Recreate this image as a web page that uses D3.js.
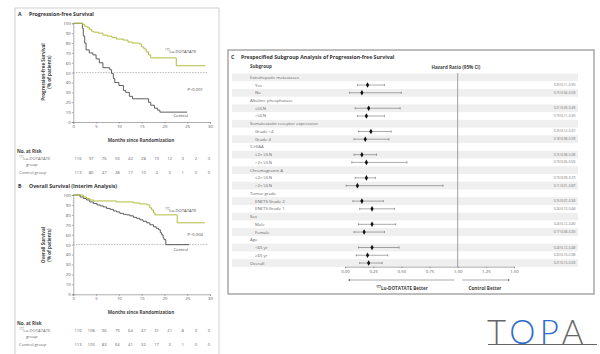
<!DOCTYPE html>
<html>
<head>
<meta charset="utf-8">
<script src="https://cdn.jsdelivr.net/npm/d3@7"></script>
<style>
  body { margin: 0; background: #fff; }
  text { font-family: "Open Sans", "Liberation Sans", sans-serif; fill: #444; }
  .title { font-weight: bold; font-size: 5.2px; fill: #333; }
  .tick text { font-size: 4.3px; fill: #555; }
  .axis path, .axis line { stroke: #777; stroke-width: 0.6; }
  .axis-label { font-weight: bold; font-size: 4.6px; fill: #444; }
  .risk { font-size: 4.2px; fill: #666; }
  .row-label { font-size: 4.3px; fill: #666; }
  .hr-text { font-size: 3px; fill: #666; }
</style>
</head>
<body>
<div id="chart"></div>
<script>
// Kaplan-Meier step points [month, % of patients]
const lutPFS = [[0,100],[1.5,100],[2,99],[2.5,97],[3,96],[3.5,94],[4,92],[4.5,91],[5.5,90],[6.5,88],[7.5,87],[8.5,85.5],[9.5,84],[11,83],[12,81],[13,80],[14.5,79],[15,76],[15.5,74],[16,71],[16.5,68],[17,65],[22.5,65],[22.6,57],[29,57]];
const ctlPFS = [[0,100],[1.8,100],[2,95],[2.2,87],[2.5,80],[2.8,73],[3.5,70],[4.3,68],[5,64],[5.7,60],[6.5,55],[8,53],[8.4,49],[8.8,44],[9.1,40],[10,37],[11,32],[11.5,30],[12.3,26],[13,23.5],[16,23.5],[16.5,20],[17,17],[17.8,14],[18.5,12],[19,10],[25,10]];
const lutOS = [[0,100],[1.5,100],[2.2,98],[2.9,96.5],[3.6,95],[4.4,94],[9.5,93],[13.2,92],[14.6,91],[16.1,90],[16.8,87],[17.2,85],[17.6,82],[17.9,80],[22.7,80],[22.8,72],[28.9,72]];
const ctlOS = [[0,100],[1,100],[1.5,98],[2.2,96.5],[2.9,95],[3.6,93],[4.4,91.5],[5.2,90],[5.9,89],[6.6,88],[7.3,86.5],[8.1,85.5],[8.8,84],[9.5,83],[10.2,81.5],[11,80.5],[11.7,80],[12.4,79],[13.2,77.5],[13.9,76.5],[14.6,75],[15.3,73.5],[16.1,72],[16.8,70],[17.6,68],[18.2,66.5],[18.7,65],[19.1,62],[19.4,60],[19.7,57],[19.9,55],[20.3,50],[25.4,50]];

// Numbers at risk
const riskMonths = [0,3,6,9,12,15,18,21,24,27,30];
const riskLutPFS = [116,97,76,59,42,28,19,12,3,2,0];
const riskCtlPFS = [113,80,47,28,17,10,4,3,1,0,0];
const riskLutOS = [116,108,96,79,64,47,31,21,8,3,0];
const riskCtlOS = [113,103,83,64,41,32,17,3,1,0,0];

// Axis ticks
const kmXTicks = [0,5,10,15,20,25,30];
const kmYTicks = [0,10,20,30,40,50,60,70,80,90,100];
const hrTicks = [0,0.25,0.5,0.75,1,1.25,1.5];

// Forest plot rows
const forestLabels = ["Extrahepatic metastases","Yes","No","Alkaline phosphatase","\u2264ULN",">ULN",
  "Somatostatin receptor expression","Grade <4","Grade 4","5-HIAA","\u22642\u00d7 ULN",">2\u00d7 ULN",
  "Chromogranin A","\u22642\u00d7 ULN",">2\u00d7 ULN","Tumor grade","ENETS Grade 2","ENETS Grade 1",
  "Sex","Male","Female","Age","<65 yr","\u226565 yr","Overall"];
const forestHeader = [1,0,0,1,0,0,1,0,0,1,0,0,1,0,0,1,0,0,1,0,0,1,0,0,1];
const forestHR = [null,0.20,0.15,null,0.21,0.19,null,0.23,0.18,null,0.15,0.19,null,0.19,0.11,null,0.15,0.24,null,0.24,0.17,null,0.24,0.20,0.21];
const forestLo = [null,0.11,0.04,null,0.09,0.11,null,0.12,0.08,null,0.08,0.06,null,0.09,0.01,null,0.07,0.13,null,0.12,0.08,null,0.12,0.10,0.13];
const forestHi = [null,0.35,0.50,null,0.49,0.35,null,0.41,0.39,null,0.28,0.55,null,0.27,0.87,null,0.34,0.44,null,0.45,0.35,null,0.48,0.38,0.33];

const lutColor = "#b3bc3e";
const ctlColor = "#4d4d4d";

const svg = d3.select("#chart")
  .append("svg")
  .attr("width", 600)
  .attr("height", 354);

// Panel frames
svg.append("rect")
  .attr("x", 15).attr("y", 8)
  .attr("width", 204).attr("height", 360)
  .attr("fill", "none")
  .attr("stroke", "#c4c4c4")
  .attr("stroke-width", 0.8);

svg.append("rect")
  .attr("x", 228).attr("y", 50)
  .attr("width", 366).attr("height", 244)
  .attr("fill", "#fff")
  .attr("stroke", "#9a9a9a")
  .attr("stroke-width", 1.3);

// Superscript helper for the 177Lu label
function luLabel(sel) {
  sel.append("tspan").attr("font-size", "0.6em").attr("dy", "-0.6em").text("177");
  sel.append("tspan").attr("dy", "0.36em").text("Lu-DOTATATE");
}

// Kaplan-Meier panel
function kmPanel(opt) {
  const x = d3.scaleLinear().domain([0, 30]).range([73.3, 210]);
  const y = d3.scaleLinear().domain([0, 100]).range([opt.y0, opt.y100]);

  const g = svg.append("g");

  g.append("text").attr("class", "title").attr("x", 18).attr("y", opt.titleY).text(opt.letter);
  g.append("text").attr("class", "title").attr("x", 29).attr("y", opt.titleY).text(opt.title);

  g.append("g")
    .attr("class", "axis")
    .attr("transform", `translate(0, ${opt.y0})`)
    .call(d3.axisBottom(x).tickValues(kmXTicks).tickSize(1.5).tickPadding(1.5));

  g.append("g")
    .attr("class", "axis")
    .attr("transform", `translate(${x(0)}, 0)`)
    .call(d3.axisLeft(y).tickValues(kmYTicks).tickSize(1.5).tickPadding(1.2));

  // 50% reference line
  g.append("line")
    .attr("x1", x(0)).attr("x2", x(29.5))
    .attr("y1", y(50)).attr("y2", y(50))
    .attr("stroke", "#888")
    .attr("stroke-width", 0.6)
    .attr("stroke-dasharray", "1.5,1.2");

  const line = d3.line().curve(d3.curveStepAfter).x(d => x(d[0])).y(d => y(d[1]));

  g.append("path").datum(opt.ctl)
    .attr("fill", "none").attr("stroke", ctlColor).attr("stroke-width", 0.9)
    .attr("d", line);
  g.append("path").datum(opt.lut)
    .attr("fill", "none").attr("stroke", lutColor).attr("stroke-width", 1)
    .attr("d", line);

  // Curve labels
  g.append("text").attr("x", 165).attr("y", y(opt.lutLabelPct)).attr("font-size", 4.2).attr("fill", "#555").call(luLabel);
  g.append("text").attr("x", 203).attr("y", y(opt.pPct)).attr("text-anchor", "end").attr("font-size", 4.2).attr("fill", "#555").text(opt.pText);
  g.append("text").attr("x", 188).attr("y", y(opt.ctlLabelPct)).attr("text-anchor", "end").attr("font-size", 4.2).attr("fill", "#555").text("Control");

  // Y-axis title
  const yt = g.append("text")
    .attr("class", "axis-label")
    .attr("text-anchor", "middle")
    .attr("transform", `translate(45, ${opt.yTitleMid}) rotate(-90)`);
  yt.append("tspan").attr("x", 0).attr("dy", 0).text(opt.yTitle);
  yt.append("tspan").attr("x", 0).attr("dy", 5.5).text("(% of patients)");

  g.append("text")
    .attr("class", "axis-label")
    .attr("text-anchor", "middle")
    .attr("x", 141).attr("y", opt.y0 + 20)
    .text("Months since Randomization");

  // Numbers at risk table
  const rx = d3.scaleLinear().domain([0, 30]).range([78, 209]);
  const ry = opt.riskY;
  g.append("text").attr("class", "axis-label").attr("x", 17).attr("y", ry).text("No. at Risk");
  g.append("text").attr("class", "risk").attr("x", 19).attr("y", ry + 7).call(luLabel);
  g.append("text").attr("class", "risk").attr("x", 26).attr("y", ry + 13.5).text("group");
  g.append("text").attr("class", "risk").attr("x", 19).attr("y", ry + 21).text("Control group");

  g.selectAll(".risk-lut").data(opt.riskLut).enter()
    .append("text").attr("class", "risk").attr("text-anchor", "middle")
    .attr("x", (d, i) => rx(riskMonths[i])).attr("y", ry + 7).text(d => d);
  g.selectAll(".risk-ctl").data(opt.riskCtl).enter()
    .append("text").attr("class", "risk").attr("text-anchor", "middle")
    .attr("x", (d, i) => rx(riskMonths[i])).attr("y", ry + 21).text(d => d);
}

kmPanel({
  letter: "A", title: "Progression-free Survival", titleY: 15.5,
  y100: 23.3, y0: 122, lut: lutPFS, ctl: ctlPFS,
  lutLabelPct: 70, pPct: 31, pText: "P<0.001", ctlLabelPct: 5,
  yTitle: "Progression-free Survival", yTitleMid: 72,
  riskY: 152.5, riskLut: riskLutPFS, riskCtl: riskCtlPFS
});

kmPanel({
  letter: "B", title: "Overall Survival (Interim Analysis)", titleY: 188,
  y100: 195, y0: 294.3, lut: lutOS, ctl: ctlOS,
  lutLabelPct: 83, pPct: 58.5, pText: "P=0.004", ctlLabelPct: 43.5,
  yTitle: "Overall Survival", yTitleMid: 245,
  riskY: 324.5, riskLut: riskLutOS, riskCtl: riskCtlOS
});

// Forest plot (panel C)
const fx = d3.scaleLinear().domain([0, 1.5]).range([345, 514]);
const rowY = d3.scaleLinear().domain([0, forestLabels.length - 1]).range([77.3, 263]);
const rowH = rowY(1) - rowY(0);
const fg = svg.append("g");

fg.append("text").attr("class", "title").attr("x", 231).attr("y", 58.5).text("C");
fg.append("text").attr("class", "title").attr("x", 241).attr("y", 58.5)
  .attr("font-size", 4.6).text("Prespecified Subgroup Analysis of Progression-free Survival");
fg.append("text").attr("class", "axis-label").attr("x", 250).attr("y", 68.3).text("Subgroup");
fg.append("text").attr("class", "axis-label").attr("x", 456).attr("y", 68.5)
  .attr("text-anchor", "middle").text("Hazard Ratio (95% CI)");

// Alternate row bands
fg.selectAll(".band").data(forestLabels).enter()
  .filter((d, i) => i % 2 === 0)
  .append("rect")
  .attr("x", 232).attr("width", 346)
  .attr("y", (d, i) => rowY(i * 2) - rowH / 2)
  .attr("height", rowH)
  .attr("fill", "#efefef");

// Row labels: group headers flush, subgroups indented
fg.selectAll(".row-label").data(forestLabels).enter()
  .append("text")
  .attr("class", "row-label")
  .attr("x", (d, i) => forestHeader[i] ? 250 : 255)
  .attr("y", (d, i) => rowY(i) + 1.5)
  .text(d => d);

// No-effect line
fg.append("line")
  .attr("x1", fx(1)).attr("x2", fx(1))
  .attr("y1", 73).attr("y2", 267)
  .attr("stroke", "#a0a0a0").attr("stroke-width", 1);

// X axis
fg.append("g")
  .attr("class", "axis")
  .attr("transform", "translate(0, 266.7)")
  .call(d3.axisBottom(fx).tickValues(hrTicks).tickFormat(d3.format(".2f")).tickSize(1.5).tickPadding(1.8))
  .selectAll("text").attr("font-size", 3.6);

const rows = forestHR.map((d, i) => ({ i, hr: d, lo: forestLo[i], hi: forestHi[i] })).filter(d => d.hr !== null);

// CI whiskers with caps
fg.selectAll(".ci").data(rows).enter()
  .append("line")
  .attr("x1", d => fx(d.lo)).attr("x2", d => fx(d.hi))
  .attr("y1", d => rowY(d.i)).attr("y2", d => rowY(d.i))
  .attr("stroke", "#444").attr("stroke-width", 0.45);

["lo", "hi"].forEach(k => {
  fg.selectAll(".cap-" + k).data(rows).enter()
    .append("line")
    .attr("x1", d => fx(d[k])).attr("x2", d => fx(d[k]))
    .attr("y1", d => rowY(d.i) - 1.1).attr("y2", d => rowY(d.i) + 1.1)
    .attr("stroke", "#444").attr("stroke-width", 0.45);
});

// Point estimates
fg.selectAll(".pt").data(rows).enter()
  .append("path")
  .attr("transform", d => `translate(${fx(d.hr)}, ${rowY(d.i)})`)
  .attr("d", d3.symbol().type(d3.symbolDiamond).size(9))
  .attr("fill", "#111");

// HR text column
const fmt = d3.format(".2f");
fg.selectAll(".hr-text").data(rows).enter()
  .append("text")
  .attr("class", "hr-text")
  .attr("text-anchor", "end")
  .attr("x", 575.5)
  .attr("y", d => rowY(d.i) + 1)
  .text(d => `${fmt(d.hr)} (${fmt(d.lo)}\u2013${fmt(d.hi)})`);

// Direction arrows
const defs = svg.append("defs");
defs.append("marker")
  .attr("id", "arrow")
  .attr("viewBox", "0 0 10 10")
  .attr("refX", 9).attr("refY", 5)
  .attr("markerWidth", 4).attr("markerHeight", 4)
  .attr("orient", "auto-start-reverse")
  .append("path").attr("d", "M0,1 L10,5 L0,9 Z").attr("fill", "#333");

fg.append("line")
  .attr("x1", fx(0.97)).attr("x2", fx(0.03))
  .attr("y1", 280).attr("y2", 280)
  .attr("stroke", "#555").attr("stroke-width", 0.5)
  .attr("marker-end", "url(#arrow)");
fg.append("line")
  .attr("x1", fx(1.04)).attr("x2", fx(1.46))
  .attr("y1", 280).attr("y2", 280)
  .attr("stroke", "#555").attr("stroke-width", 0.5)
  .attr("marker-end", "url(#arrow)");

const better = fg.append("text").attr("class", "axis-label").attr("font-size", 4.2)
  .attr("text-anchor", "middle").attr("x", 402).attr("y", 289.5);
better.append("tspan").attr("font-size", "0.6em").attr("dy", "-0.6em").text("177");
better.append("tspan").attr("dy", "0.36em").text("Lu-DOTATATE Better");
fg.append("text").attr("class", "axis-label").attr("font-size", 4.2)
  .attr("text-anchor", "middle").attr("x", 485).attr("y", 289.5).text("Control Better");

// TOPA logo
const logo = svg.append("text")
  .attr("x", 487).attr("y", 344)
  .attr("font-size", 33)
  .attr("font-weight", 300)
  .style("font-family", "Lato, 'Open Sans', sans-serif")
  .attr("letter-spacing", 4.5);
logo.append("tspan").style("fill", "#666").text("T");
logo.append("tspan").style("fill", "#2f6bcc").text("OP");
logo.append("tspan").style("fill", "#666").text("A");
svg.append("line")
  .attr("x1", 488).attr("x2", 597)
  .attr("y1", 344.5).attr("y2", 344.5)
  .attr("stroke", "#666").attr("stroke-width", 1.2);
</script>
</body>
</html>
